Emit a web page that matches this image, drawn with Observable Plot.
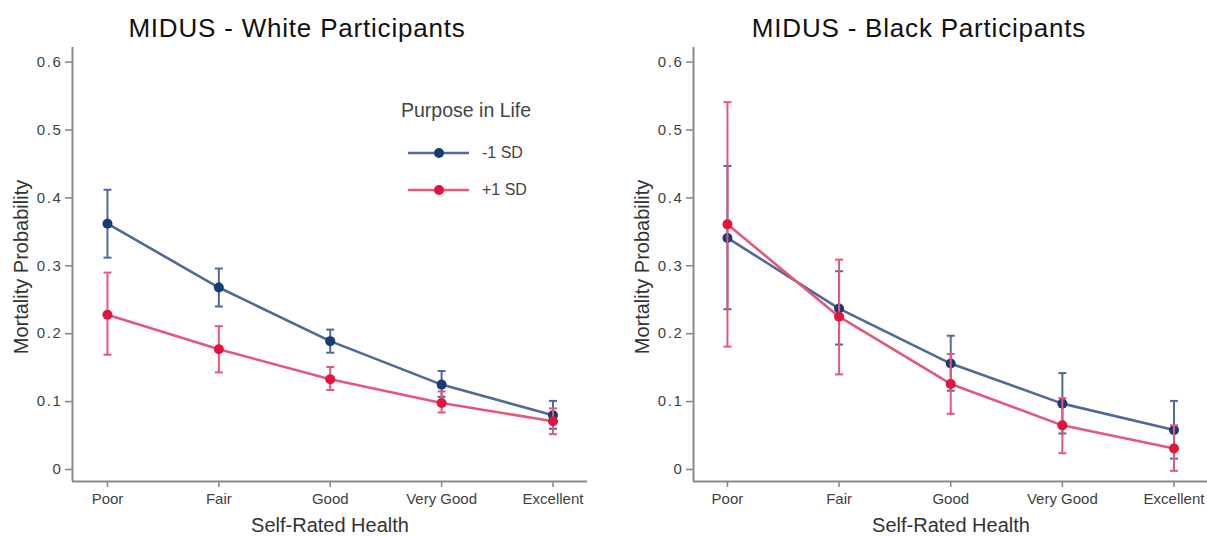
<!DOCTYPE html>
<html>
<head>
<meta charset="utf-8">
<script src="https://cdn.jsdelivr.net/npm/d3@7"></script>
<script src="https://cdn.jsdelivr.net/npm/@observablehq/plot@0.6"></script>
<style>
  html, body { margin: 0; padding: 0; background: #fff; }
  body { font-family: "Liberation Sans", Arial, Helvetica, sans-serif; }
  #wrap { position: relative; width: 1207px; height: 536px; overflow: hidden; background: #fff; }
  .abs { position: absolute; white-space: nowrap; }
  .title { font-size: 26px; color: #111; letter-spacing: 0.8px; transform: translate(-50%, -50%); }
  .xtitle { font-size: 20px; color: #333; transform: translate(-50%, -50%); }
  .ytitle { font-size: 20px; color: #333; transform: translate(-50%, -50%) rotate(-90deg); }
  .legtitle { font-size: 19.5px; color: #444; transform: translateY(-50%); }
  .leglab { font-size: 16px; color: #444; transform: translateY(-50%); }
  .panel { position: absolute; top: 44px; }
  .panel svg { overflow: visible; }
  .panel g[aria-label="x-axis tick"], .panel g[aria-label="y-axis tick"] { stroke: #8a8a8a; stroke-width: 1.6px; }
  .panel g[aria-label="x-axis tick label"] text { font-size: 15px; fill: #3f3f3f; }
  .panel g[aria-label="y-axis tick label"] text { font-size: 15px; fill: #3f3f3f; letter-spacing: 1.6px; }
</style>
</head>
<body>
<div id="wrap"></div>
<script>
// ---- data ----
const categories = ["Poor", "Fair", "Good", "Very Good", "Excellent"];
const groups = ["-1 SD", "+1 SD"];
const yTicks = [0, 0.1, 0.2, 0.3, 0.4, 0.5, 0.6];

// MIDUS - White Participants
const whiteLowEst  = [0.362, 0.268, 0.189, 0.125, 0.080];
const whiteLowLo   = [0.312, 0.240, 0.172, 0.107, 0.060];
const whiteLowHi   = [0.412, 0.296, 0.206, 0.145, 0.101];
const whiteHighEst = [0.228, 0.177, 0.133, 0.098, 0.071];
const whiteHighLo  = [0.169, 0.143, 0.117, 0.084, 0.052];
const whiteHighHi  = [0.290, 0.211, 0.151, 0.115, 0.090];

// MIDUS - Black Participants
const blackLowEst  = [0.341, 0.237, 0.156, 0.097, 0.058];
const blackLowLo   = [0.236, 0.184, 0.116, 0.053, 0.016];
const blackLowHi   = [0.447, 0.292, 0.197, 0.142, 0.101];
const blackHighEst = [0.361, 0.225, 0.126, 0.065, 0.031];
const blackHighLo  = [0.181, 0.140, 0.082, 0.024, -0.002];
const blackHighHi  = [0.541, 0.309, 0.170, 0.105, 0.065];

// ---- styles ----
const lineColors = ["#4f6a98", "#e4577a"];
const dotColors  = ["#153d74", "#e0143f"];
const axisColor = "#8a8a8a";

const capSymbol = {
  draw(context, size) {
    const w = Math.sqrt(size / Math.PI);
    context.moveTo(-w, 0);
    context.lineTo(w, 0);
  }
};

function rows(est, lo, hi) {
  return categories.map((c, i) => ({i, cat: c, est: est[i], lo: lo[i], hi: hi[i]}));
}

function seriesMarks(data, k) {
  return [
    Plot.ruleX(data, {x: "i", y1: "lo", y2: "hi", stroke: lineColors[k], strokeWidth: 2}),
    Plot.dot(data, {x: "i", y: "lo", symbol: capSymbol, r: 4, stroke: lineColors[k], strokeWidth: 2, fill: "none"}),
    Plot.dot(data, {x: "i", y: "hi", symbol: capSymbol, r: 4, stroke: lineColors[k], strokeWidth: 2, fill: "none"}),
    Plot.line(data, {x: "i", y: "est", stroke: lineColors[k], strokeWidth: 2.6}),
    Plot.dot(data, {x: "i", y: "est", r: 5, fill: dotColors[k], stroke: "none"})
  ];
}

function panel(series, opts) {
  const yDomain = [-0.0177, 0.6215];
  return Plot.plot({
    width: opts.width,
    height: 492,
    marginLeft: opts.marginLeft,
    marginRight: opts.marginRight,
    marginTop: 3,
    marginBottom: 55,
    style: {fontFamily: '"Liberation Sans", Arial, Helvetica, sans-serif', fontSize: "15px", color: "#3f3f3f", background: "transparent"},
    x: {type: "linear", domain: opts.xDomain, ticks: [0, 1, 2, 3, 4], tickFormat: i => categories[i], tickSize: 6, tickPadding: 6, label: null},
    y: {domain: yDomain, ticks: yTicks, tickFormat: d => d === 0 ? "0" : d.toFixed(1), tickSize: 7, tickPadding: 3, label: null},
    marks: [
      Plot.ruleY([yDomain[0]], {stroke: axisColor, strokeWidth: 2}),
      Plot.ruleX([opts.xDomain[0]], {stroke: axisColor, strokeWidth: 2}),
      ...seriesMarks(series[0], 0),
      ...seriesMarks(series[1], 1)
    ]
  });
}

const wrap = document.getElementById("wrap");
function addDiv(cls, text, left, top) {
  const d = document.createElement("div");
  d.className = "abs " + cls;
  d.textContent = text;
  d.style.left = left + "px";
  d.style.top = top + "px";
  wrap.appendChild(d);
  return d;
}

// Left panel
const leftDiv = document.createElement("div");
leftDiv.className = "panel";
leftDiv.style.left = "0px";
leftDiv.appendChild(panel(
  [rows(whiteLowEst, whiteLowLo, whiteLowHi), rows(whiteHighEst, whiteHighLo, whiteHighHi)],
  {width: 603, marginLeft: 72, marginRight: 16, xDomain: [-0.314, 4.31]}
));
wrap.appendChild(leftDiv);

// Right panel
const rightDiv = document.createElement("div");
rightDiv.className = "panel";
rightDiv.style.left = "603px";
rightDiv.appendChild(panel(
  [rows(blackLowEst, blackLowLo, blackLowHi), rows(blackHighEst, blackHighLo, blackHighHi)],
  {width: 604, marginLeft: 90, marginRight: 0, xDomain: [-0.304, 4.30]}
));
wrap.appendChild(rightDiv);

// Titles and axis titles
addDiv("title", "MIDUS - White Participants", 297, 28);
addDiv("title", "MIDUS - Black Participants", 919, 28);
addDiv("xtitle", "Self-Rated Health", 330, 525);
addDiv("xtitle", "Self-Rated Health", 951, 525);
addDiv("ytitle", "Mortality Probability", 21, 267);
addDiv("ytitle", "Mortality Probability", 642, 267);

// Legend
addDiv("legtitle", "Purpose in Life", 401, 110);
const legendYs = [153, 190];
groups.forEach((g, k) => {
  const svgNS = "http://www.w3.org/2000/svg";
  const s = document.createElementNS(svgNS, "svg");
  s.setAttribute("width", 64);
  s.setAttribute("height", 14);
  s.style.position = "absolute";
  s.style.left = "407px";
  s.style.top = (legendYs[k] - 7) + "px";
  const ln = document.createElementNS(svgNS, "line");
  ln.setAttribute("x1", 1); ln.setAttribute("x2", 62);
  ln.setAttribute("y1", 7); ln.setAttribute("y2", 7);
  ln.setAttribute("stroke", lineColors[k]); ln.setAttribute("stroke-width", 2.6);
  const c = document.createElementNS(svgNS, "circle");
  c.setAttribute("cx", 32); c.setAttribute("cy", 7); c.setAttribute("r", 5);
  c.setAttribute("fill", dotColors[k]);
  s.appendChild(ln); s.appendChild(c);
  wrap.appendChild(s);
  addDiv("leglab", g, 482, legendYs[k]);
});
</script>
</body>
</html>
